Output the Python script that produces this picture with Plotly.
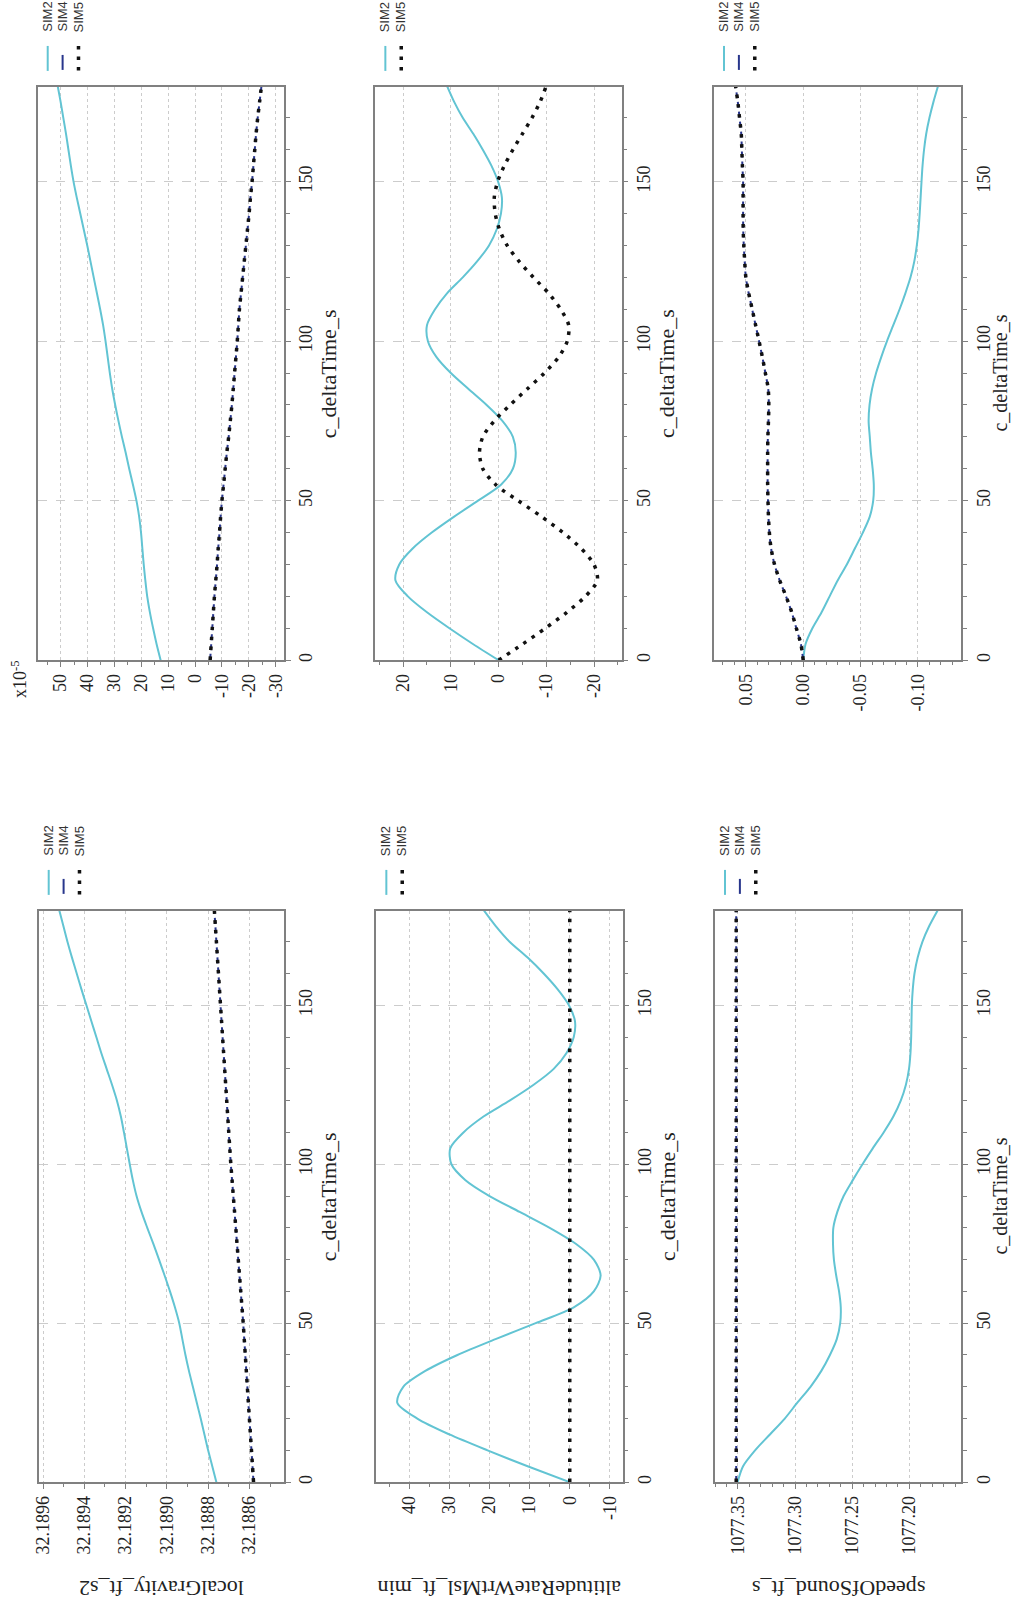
import plotly.graph_objects as go

W, H = 1011, 1606

# ---------------- data ----------------
T = [0, 5, 10, 15, 20, 25, 30, 35, 40, 45, 50, 55, 60, 65, 70, 75, 80, 85, 90,
     95, 100, 105, 110, 115, 120, 125, 130, 135, 140, 145, 150, 155, 160, 165,
     170, 175, 180]
T_FLAT = [0, 30, 60, 90, 120, 150, 180]

# localGravity difference (x1e-5)
GRAV_DIFF_SIM2 = [12.8, 14.3, 15.6, 16.8, 17.8, 18.5, 19.1, 19.6, 20.1, 20.8, 21.8,
                  23.1, 24.5, 25.8, 27.2, 28.5, 29.7, 30.8, 31.7, 32.5, 33.3, 34.2,
                  35.3, 36.5, 37.7, 38.9, 40.1, 41.4, 42.7, 44.0, 45.2, 46.2, 47.1,
                  48.0, 49.0, 50.0, 51.1]
GRAV_DIFF_SIM45 = [-5.6, -6.0, -6.4, -6.8, -7.2, -7.7, -8.2, -8.6, -9.1, -9.5, -10.0,
                   -10.6, -11.2, -11.8, -12.5, -13.1, -13.7, -14.2, -14.7, -15.2,
                   -15.7, -16.1, -16.5, -17.1, -17.7, -18.3, -18.9, -19.5, -20.1,
                   -20.6, -21.2, -21.7, -22.2, -22.7, -23.3, -24.0, -24.7]

# altitudeRate difference
ALT_DIFF_SIM2 = [0.0, 5.3, 10.3, 15.0, 19.0, 21.6, 20.8, 18.0, 14.0, 9.3, 4.3, -0.5,
                 -3.0, -3.6, -3.0, -0.8, 2.5, 6.3, 10.0, 13.0, 14.8, 15.0, 13.3, 10.8,
                 7.5, 4.5, 2.0, 0.4, -0.5, -0.7, 0.1, 1.5, 3.3, 5.3, 7.5, 9.3, 10.8]
ALT_DIFF_SIM5 = [0.0, -5.0, -9.8, -14.3, -18.2, -20.7, -20.0, -17.3, -13.5, -9.0, -4.1,
                 0.6, 3.3, 4.0, 3.3, 0.9, -2.4, -6.0, -9.6, -12.6, -14.4, -14.7, -13.0,
                 -10.5, -7.3, -4.3, -1.8, -0.2, 0.7, 0.9, 0.2, -1.2, -3.0, -5.0, -7.0,
                 -8.7, -10.0]

# speedOfSound difference
SOS_DIFF_SIM2 = [0.0, -0.002, -0.008, -0.016, -0.023, -0.030, -0.038, -0.045, -0.052,
                 -0.058, -0.061, -0.0615, -0.0605, -0.059, -0.058, -0.057, -0.0578,
                 -0.0600, -0.0635, -0.0680, -0.0730, -0.0785, -0.0840, -0.0890,
                 -0.0935, -0.0968, -0.0990, -0.1005, -0.1015, -0.1023, -0.1031,
                 -0.1040, -0.1053, -0.1072, -0.1100, -0.1135, -0.1175]
SOS_DIFF_SIM45 = [0.0, 0.002, 0.006, 0.010, 0.015, 0.0205, 0.025, 0.028, 0.0295,
                  0.0303, 0.0307, 0.031, 0.031, 0.031, 0.0308, 0.0303, 0.030, 0.0305,
                  0.033, 0.0356, 0.0385, 0.0415, 0.0445, 0.0475, 0.050, 0.051, 0.0518,
                  0.0523, 0.0524, 0.0524, 0.0524, 0.053, 0.0535, 0.054, 0.0555, 0.057,
                  0.059]

# localGravity_ft_s2
GRAV_SIM2 = [32.188760, 32.188780, 32.188800, 32.188818, 32.188836, 32.188855,
             32.188874, 32.188893, 32.188910, 32.188925, 32.188940, 32.188961,
             32.188985, 32.189011, 32.189038, 32.189066, 32.189095, 32.189123,
             32.189147, 32.189165, 32.189180, 32.189194, 32.189208, 32.189223,
             32.189242, 32.189266, 32.189292, 32.189318, 32.189342, 32.189366,
             32.189390, 32.189414, 32.189437, 32.189460, 32.189482, 32.189502,
             32.189522]
GRAV_SIM45 = [32.188580, 32.188585, 32.188590, 32.188595, 32.188600, 32.188605,
              32.188610, 32.188615, 32.188620, 32.188625, 32.188630, 32.188636,
              32.188642, 32.188648, 32.188654, 32.188660, 32.188666, 32.188672,
              32.188678, 32.188684, 32.188690, 32.188695, 32.188700, 32.188705,
              32.188710, 32.188715, 32.188720, 32.188725, 32.188730, 32.188735,
              32.188740, 32.188745, 32.188750, 32.188755, 32.188760, 32.188765,
              32.188770]

# altitudeRateWrtMsl_ft_min
ALT_SIM2 = [0.0, 10.5, 20.5, 30.0, 38.0, 43.0, 41.5, 36.0, 28.0, 18.5, 8.5, -1.0,
            -6.0, -7.7, -6.0, -1.5, 5.0, 12.5, 20.0, 26.0, 29.5, 29.8, 26.5, 21.5,
            15.0, 9.0, 4.0, 0.8, -1.0, -1.3, 0.2, 3.0, 6.5, 10.5, 15.0, 18.5, 21.5]
ALT_SIM5 = [0.0, 0.0, 0.0, 0.0, 0.0, 0.0, 0.0]

# speedOfSound_ft_s
SOS_SIM2 = [1077.3503, 1077.3455, 1077.3350, 1077.3220, 1077.3090, 1077.2980,
            1077.2865, 1077.2770, 1077.2695, 1077.2635, 1077.2605, 1077.2600,
            1077.2615, 1077.2640, 1077.2660, 1077.2668, 1077.2665, 1077.2630,
            1077.2575, 1077.2495, 1077.2410, 1077.2320, 1077.2225, 1077.2140,
            1077.2075, 1077.2030, 1077.2003, 1077.1990, 1077.1984, 1077.1981,
            1077.1978, 1077.1970, 1077.1955, 1077.1927, 1077.1885, 1077.1825,
            1077.1750]
SOS_SIM45 = [1077.3515, 1077.3515, 1077.3515, 1077.3515, 1077.3515, 1077.3515, 1077.3515]

TIME_TICKS = [0, 50, 100, 150]
GRAV_DIFF_TICKS = [50, 40, 30, 20, 10, 0, -10, -20, -30]
ALT_DIFF_TICKS = [20, 10, 0, -10, -20]
SOS_DIFF_TICKS = [0.05, 0.0, -0.05, -0.10]
SOS_DIFF_LABELS = ["0.05", "0.00", "-0.05", "-0.10"]
GRAV_TICKS = [32.1896, 32.1894, 32.1892, 32.1890, 32.1888, 32.1886]
GRAV_LABELS = ["32.1896", "32.1894", "32.1892", "32.1890", "32.1888", "32.1886"]
ALT_TICKS = [40, 30, 20, 10, 0, -10]
SOS_TICKS = [1077.35, 1077.30, 1077.25, 1077.20]
SOS_LABELS = ["1077.35", "1077.30", "1077.25", "1077.20"]

# ---------------- styling ----------------
CYAN = "#62c4d3"
NAVY = "#28368c"
BLACK = "#111111"
FRAME = "#808080"
GRID = "#cccccc"
SERIF = "Liberation Serif, Times New Roman, serif"
SANS = "Liberation Sans, Arial, sans-serif"
DOTS = "3.5px,6.5px"


def xd(l, r):
    return [l / W, r / W]


def yd(t, b):
    return [1 - b / H, 1 - t / H]


panels = [
    dict(box=(32, 87, 280, 661), rng=[58.5, -33.1], tv=GRAV_DIFF_TICKS,
         tt=[str(v) for v in GRAV_DIFF_TICKS], minor=5, m0=0,
         series=[("SIM2", GRAV_DIFF_SIM2, T), ("SIM4", GRAV_DIFF_SIM45, T),
                 ("SIM5", GRAV_DIFF_SIM45, T)], ytitle=None),
    dict(box=(372, 87, 620, 661), rng=[25.8, -25.8], tv=ALT_DIFF_TICKS,
         tt=[str(v) for v in ALT_DIFF_TICKS], minor=5, m0=0,
         series=[("SIM2", ALT_DIFF_SIM2, T), ("SIM5", ALT_DIFF_SIM5, T)], ytitle=None),
    dict(box=(713, 87, 962, 661), rng=[0.0777, -0.1378], tv=SOS_DIFF_TICKS,
         tt=SOS_DIFF_LABELS, minor=0.01, m0=0,
         series=[("SIM2", SOS_DIFF_SIM2, T), ("SIM4", SOS_DIFF_SIM45, T),
                 ("SIM5", SOS_DIFF_SIM45, T)], ytitle=None),
    dict(box=(33, 912, 280, 1484), rng=[32.189621, 32.188432], tv=GRAV_TICKS,
         tt=GRAV_LABELS, minor=0.0001, m0=32.1886,
         series=[("SIM2", GRAV_SIM2, T), ("SIM4", GRAV_SIM45, T),
                 ("SIM5", GRAV_SIM45, T)], ytitle="localGravity_ft_s2"),
    dict(box=(373, 912, 621, 1484), rng=[48.2, -13.2], tv=ALT_TICKS,
         tt=[str(v) for v in ALT_TICKS], minor=5, m0=0,
         series=[("SIM2", ALT_SIM2, T), ("SIM5", ALT_SIM5, T_FLAT)],
         ytitle="altitudeRateWrtMsl_ft_min"),
    dict(box=(714, 912, 962, 1484), rng=[1077.37, 1077.1545], tv=SOS_TICKS,
         tt=SOS_LABELS, minor=0.01, m0=1077.35,
         series=[("SIM2", SOS_SIM2, T), ("SIM4", SOS_SIM45, T_FLAT),
                 ("SIM5", SOS_SIM45, T_FLAT)], ytitle="speedOfSound_ft_s"),
]

STYLE = {
    "SIM2": dict(color=CYAN, width=2, dash="solid"),
    "SIM4": dict(color=NAVY, width=2, dash="6px,4px"),
    "SIM5": dict(color=BLACK, width=3.5, dash=DOTS),
}
LEGEND_STYLE = {
    "SIM2": dict(color=CYAN, width=2, dash="solid"),
    "SIM4": dict(color=NAVY, width=2, dash="solid"),
    "SIM5": dict(color=BLACK, width=3.5, dash="3.5px,7px"),
}

fig = go.Figure()
layout = {}
annotations = []
shapes = []

for i, p in enumerate(panels, start=1):
    l, t, r, b = p["box"]
    xa = "x" if i == 1 else f"x{i}"
    ya = "y" if i == 1 else f"y{i}"
    for name, vals, times in p["series"]:
        fig.add_trace(go.Scatter(
            x=vals, y=times, xaxis=xa, yaxis=ya, mode="lines", name=name,
            line=dict(shape="spline", smoothing=0.8, **STYLE[name]),
            showlegend=False, hoverinfo="skip"))

    layout["xaxis" if i == 1 else f"xaxis{i}"] = dict(
        domain=xd(l, r), anchor=ya, range=p["rng"], side="bottom",
        tickmode="array", tickvals=p["tv"], ticktext=p["tt"], tickangle=-90,
        ticks="outside", ticklen=5, tickcolor=FRAME, tickwidth=1,
        tickfont=dict(family=SERIF, size=18, color="#222222"),
        showline=True, linecolor=FRAME, linewidth=1.5, mirror=True,
        showgrid=True, gridcolor=GRID, griddash="dot", gridwidth=1,
        zeroline=False, fixedrange=True,
        minor=dict(dtick=p["minor"], tick0=p["m0"], ticks="outside", ticklen=3,
                   tickcolor=FRAME, showgrid=False),
    )
    layout["yaxis" if i == 1 else f"yaxis{i}"] = dict(
        domain=yd(t, b), anchor=xa, range=[0, 179.7], side="right",
        tickmode="array", tickvals=TIME_TICKS, ticktext=[str(v) for v in TIME_TICKS],
        tickangle=-90, ticks="outside", ticklen=5, tickcolor=FRAME, tickwidth=1,
        tickfont=dict(family=SERIF, size=18, color="#222222"),
        showline=True, linecolor=FRAME, linewidth=1.5, mirror=True,
        showgrid=True, gridcolor=GRID, griddash="dash", gridwidth=1,
        zeroline=False, fixedrange=True,
        minor=dict(dtick=10, tick0=0, ticks="outside", ticklen=4,
                   tickcolor=FRAME, showgrid=False),
    )

    # time axis title (rotated); the right-most one is kept just inside the page
    edge = r + 45 > W - 12
    tx = 1000 if edge else r + 45
    annotations.append(dict(
        text="c_deltaTime_s", x=tx / W, y=1 - ((t + b) / 2) / H,
        xref="paper", yref="paper", xanchor="center", yanchor="middle",
        showarrow=False, textangle=-90,
        font=dict(family=SERIF, size=20 if edge else 22, color="#222222")))

    # value axis title (upside down)
    if p["ytitle"]:
        annotations.append(dict(
            text=p["ytitle"], x=((l + r) / 2) / W, y=1 - 1591 / H,
            xref="paper", yref="paper", xanchor="center", yanchor="middle",
            showarrow=False, textangle=180,
            font=dict(family=SERIF, size=22, color="#222222")))

    # legend (drawn rotated, above the panel)
    offs = [10, 25, 41] if len(p["series"]) == 3 else [10, 26]
    for (name, _, _), dx in zip(p["series"], offs):
        gx = (l + dx) / W
        if name == "SIM4":
            y0, y1 = t - 32, t - 17
        else:
            y0, y1 = t - 41, t - 16
        shapes.append(dict(
            type="line", xref="paper", yref="paper", x0=gx, x1=gx,
            y0=1 - y0 / H, y1=1 - y1 / H, line=LEGEND_STYLE[name]))
        annotations.append(dict(
            text=name, x=gx, y=1 - (t - 53) / H, xref="paper", yref="paper",
            xanchor="center", yanchor="bottom", showarrow=False, textangle=-90,
            font=dict(family=SANS, size=13, color="#333333")))

annotations.append(dict(
    text="x10<sup>-5</sup>", x=13 / W, y=1 - 680 / H, xref="paper", yref="paper",
    xanchor="center", yanchor="middle", showarrow=False, textangle=-90,
    font=dict(family=SERIF, size=18, color="#222222")))

fig.update_layout(
    width=W, height=H, margin=dict(l=0, r=0, t=0, b=0),
    paper_bgcolor="white", plot_bgcolor="white",
    showlegend=False, annotations=annotations, shapes=shapes, **layout)

fig.write_html("out.html", config={"displayModeBar": False})
